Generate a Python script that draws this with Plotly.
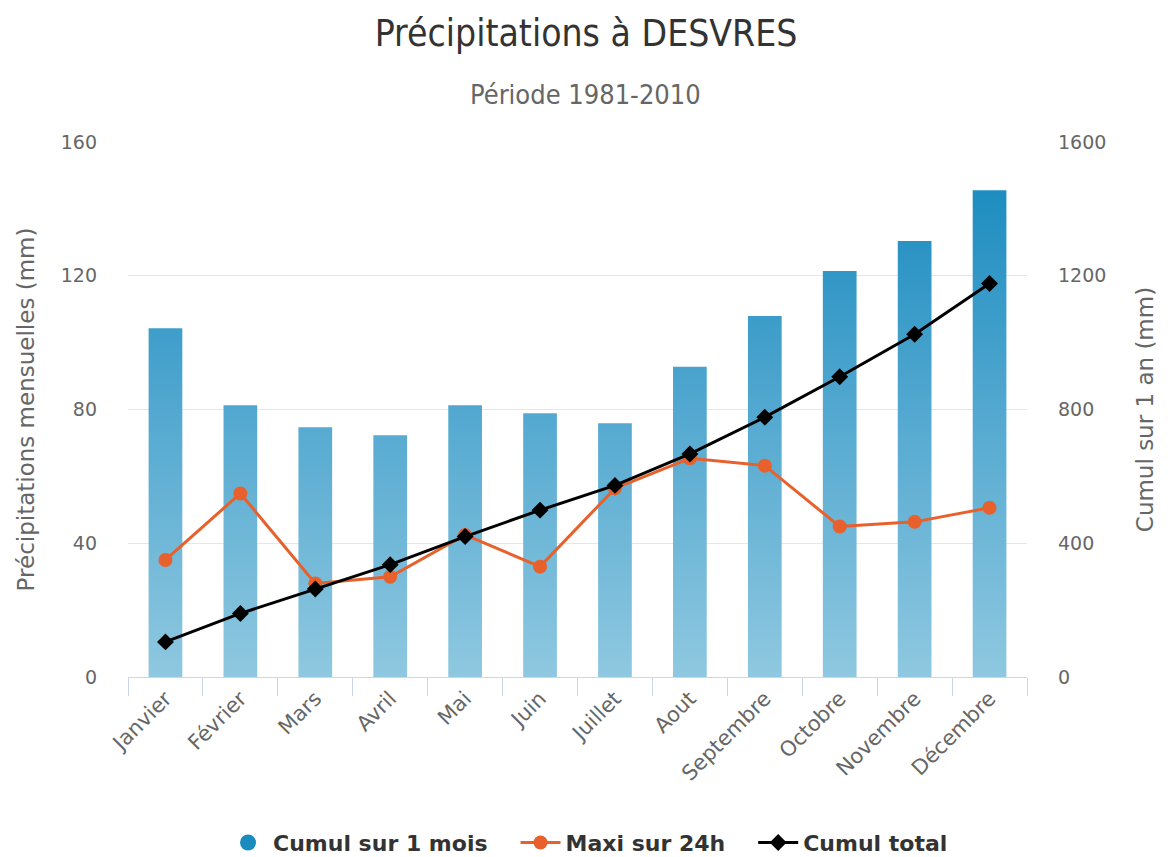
import plotly.graph_objects as go

months = ["Janvier", "Février", "Mars", "Avril", "Mai", "Juin", "Juillet",
          "Aout", "Septembre", "Octobre", "Novembre", "Décembre"]
cumul_mois = [104.3, 81.3, 74.7, 72.3, 81.3, 78.9, 75.9, 92.8, 108.0, 121.4, 130.4, 145.6]
maxi_24h = [35.0, 54.9, 28.0, 30.0, 42.5, 33.0, 56.4, 65.4, 63.2, 45.0, 46.4, 50.6]
cumul_total = [105, 190, 263, 336, 420, 499, 573, 667, 777, 898, 1025, 1177]

left_ticks = [0, 40, 80, 120, 160]
right_ticks = [0, 400, 800, 1200, 1600]

COND = "DejaVu Sans Condensed, DejaVu Sans, sans-serif"
SANS = "DejaVu Sans, Verdana, sans-serif"
GREY = "#666666"
PAD = "\u00a0\u00a0\u00a0"
bar_w = 0.45
idx = list(range(len(months)))

# bar polygons derived from data values (gradient fill along y axis)
bx, by = [], []
for i, v in zip(idx, cumul_mois):
    bx += [i - bar_w / 2, i - bar_w / 2, i + bar_w / 2, i + bar_w / 2, i - bar_w / 2, None]
    by += [0, v, v, 0, 0, None]

fig = go.Figure()
fig.add_trace(go.Scatter(
    x=bx, y=by, mode="lines", fill="toself", line=dict(width=0),
    fillgradient=dict(type="vertical", start=0, stop=150,
                      colorscale=[[0, "#8fc8e0"], [0.5, "#56aad1"], [1, "#1a8bbf"]]),
    showlegend=False, hoverinfo="skip"))
fig.add_trace(go.Scatter(
    x=[None], y=[None], mode="markers", name="Cumul sur 1 mois" + PAD,
    marker=dict(symbol="circle", size=20, color="#1a8bbf")))
fig.add_trace(go.Scatter(
    x=idx, y=maxi_24h, mode="lines+markers", name="Maxi sur 24h" + PAD,
    line=dict(color="#e8602c", width=3),
    marker=dict(symbol="circle", size=14, color="#e8602c")))
fig.add_trace(go.Scatter(
    x=idx, y=cumul_total, mode="lines+markers", name="Cumul total", yaxis="y2",
    line=dict(color="#000000", width=3),
    marker=dict(symbol="diamond", size=13, color="#000000")))

fig.update_layout(
    width=1168, height=857,
    margin=dict(l=120, r=149, t=134, b=188),
    paper_bgcolor="white", plot_bgcolor="white",
    font=dict(family=SANS, color=GREY),
    title=dict(text="Précipitations à DESVRES", x=0.4949, xanchor="center",
               y=0.971, yanchor="middle", yref="container",
               font=dict(size=37, color="#333333", family=COND)),
    annotations=[dict(text="Période 1981-2010", xref="paper", yref="paper",
                      x=0.509, y=1.088, xanchor="center", yanchor="middle",
                      showarrow=False, font=dict(size=27, color=GREY, family=COND))],
    xaxis=dict(range=[-0.5, 11.5], tickmode="array", tickvals=idx, ticktext=months,
               tickangle=-45, tickfont=dict(size=21, color=GREY, family=SANS), ticks="",
               showgrid=False, zeroline=False, showline=True, linecolor="#ccd6eb",
               linewidth=1,
               minor=dict(tick0=-0.5, dtick=1, ticks="outside", ticklen=18,
                          tickcolor="#ccd6eb", tickwidth=1, showgrid=False)),
    yaxis=dict(range=[0, 160], tickmode="array", tickvals=left_ticks,
               tickfont=dict(size=19, color=GREY, family=SANS), ticklabelstandoff=30,
               showgrid=True, gridcolor="#e6e6e6", gridwidth=1, zeroline=False,
               title=dict(text="Précipitations mensuelles (mm)", standoff=19,
                          font=dict(size=23, color=GREY, family=SANS))),
    yaxis2=dict(range=[0, 1600], tickmode="array", tickvals=right_ticks,
                overlaying="y", side="right",
                tickfont=dict(size=19, color=GREY, family=SANS),
                ticklabelstandoff=30, showgrid=False, zeroline=False,
                title=dict(text="Cumul sur 1 an (mm)", standoff=31,
                           font=dict(size=23, color=GREY, family=SANS))),
    legend=dict(orientation="h", x=0.4966, xref="container", xanchor="center",
                y=0.026, yref="container", yanchor="middle",
                font=dict(size=22, color="#333333", family=SANS, weight="bold"),
                itemwidth=40, tracegroupgap=0),
    showlegend=True,
)

fig.write_html("out.html")
